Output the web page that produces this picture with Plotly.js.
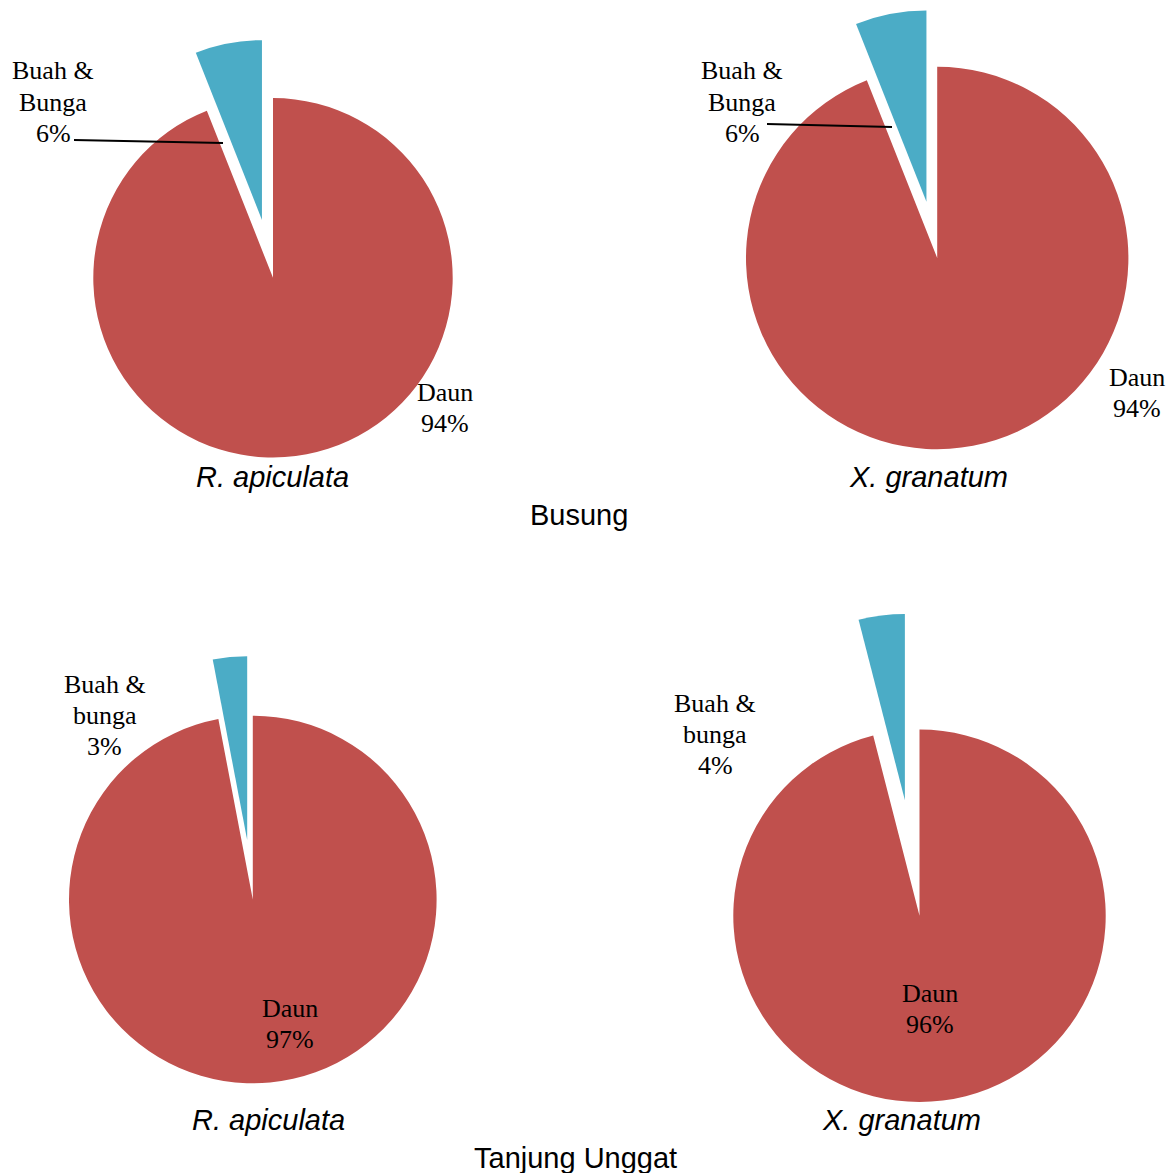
<!DOCTYPE html>
<html>
<head>
<meta charset="utf-8">
<script src="https://cdn.plot.ly/plotly-3.0.1.min.js"></script>
<style>
  html, body { margin: 0; padding: 0; overflow: hidden; background: #ffffff; }
  #chart { position: absolute; left: 0; top: 0; }
</style>
</head>
<body>
<div id="chart"></div>
<script>
// Plant-part composition (%) for two mangrove species at two sites
const sliceNames = ['Daun', 'Buah & Bunga'];
const species = ['R. apiculata', 'X. granatum', 'R. apiculata', 'X. granatum'];
const sites = ['Busung', 'Tanjung Unggat'];
const daunPct = [94, 94, 97, 96];
const buahPct = [6, 6, 3, 4];
const daunLabels = [['Daun'], ['Daun'], ['Daun'], ['Daun']];
const buahLabels = [['Buah &', 'Bunga'], ['Buah &', 'Bunga'], ['Buah &', 'bunga'], ['Buah &', 'bunga']];

// Canvas is a bit larger than the window so the exploded pies keep their size
const W = 1240, H = 1240;
const colors = ['#C0504D', '#4BACC6'];
const serif = 'Liberation Serif, Times New Roman, serif';
const sans = 'Liberation Sans, Arial, sans-serif';

// pixel layout of each pie: centre, radius, pull of the small slice
const pies = [
  {cx: 273.0, cy: 277.8, r: 179.7, pull: 0.328},
  {cx: 937.2, cy: 258.0, r: 191.2, pull: 0.300},
  {cx: 252.8, cy: 899.5, r: 183.8, pull: 0.325},
  {cx: 919.5, cy: 915.8, r: 186.2, pull: 0.626}
];
// where the value labels sit (pixel centres of the text blocks)
const buahPos = [[53, 102], [742, 102], [105, 715], [715, 734]];
const daunPos = [[445, 408], [1137, 393], [290, 1024], [930, 1009]];
const speciesPos = [[272, 477], [928, 477], [268, 1120], [901, 1120]];
const sitePos = [[579, 515], [575, 1158]];
const lineGap = 31;

const px = x => x / W;
const py = y => 1 - y / H;

const data = pies.map((p, i) => {
  const half = p.r * (1 + p.pull);
  return {
    type: 'pie',
    labels: sliceNames,
    values: [daunPct[i], buahPct[i]],
    sort: false,
    direction: 'clockwise',
    rotation: 0,
    pull: [0, p.pull],
    marker: {colors: colors, line: {width: 0}},
    textinfo: 'none',
    hoverinfo: 'label+percent',
    showlegend: false,
    domain: {
      x: [px(p.cx - half), px(p.cx + half)],
      y: [py(p.cy + half), py(p.cy - half)]
    }
  };
});

const annotations = [];
function addBlock(lines, pos) {
  lines.forEach((t, k) => {
    annotations.push({
      xref: 'paper', yref: 'paper',
      x: px(pos[0]), y: py(pos[1] + (k - (lines.length - 1) / 2) * lineGap),
      xanchor: 'center', yanchor: 'middle',
      showarrow: false,
      text: t,
      font: {family: serif, size: 26, color: '#000000'}
    });
  });
}
for (let i = 0; i < pies.length; i++) {
  addBlock(buahLabels[i].concat([buahPct[i] + '%']), buahPos[i]);
  addBlock(daunLabels[i].concat([daunPct[i] + '%']), daunPos[i]);
  annotations.push({
    xref: 'paper', yref: 'paper',
    x: px(speciesPos[i][0]), y: py(speciesPos[i][1]),
    xanchor: 'center', yanchor: 'middle',
    showarrow: false,
    text: '<i>' + species[i] + '</i>',
    font: {family: sans, size: 29, color: '#000000'}
  });
}
sites.forEach((s, k) => {
  annotations.push({
    xref: 'paper', yref: 'paper',
    x: px(sitePos[k][0]), y: py(sitePos[k][1]),
    xanchor: 'center', yanchor: 'middle',
    showarrow: false,
    text: s,
    font: {family: sans, size: 29, color: '#000000'}
  });
});

// leader lines from the small-slice labels of the upper pies
const leaders = [[74, 140, 223, 143], [767, 124, 892, 127]];
const shapes = leaders.map(l => ({
  type: 'line', xref: 'paper', yref: 'paper',
  x0: px(l[0]), y0: py(l[1]), x1: px(l[2]), y1: py(l[3]),
  line: {color: '#000000', width: 1.8}
}));

const layout = {
  width: W, height: H,
  margin: {l: 0, r: 0, t: 0, b: 0, pad: 0},
  paper_bgcolor: '#ffffff',
  plot_bgcolor: '#ffffff',
  showlegend: false,
  annotations: annotations,
  shapes: shapes
};

Plotly.newPlot('chart', data, layout, {displayModeBar: false, staticPlot: true});
</script>
</body>
</html>
